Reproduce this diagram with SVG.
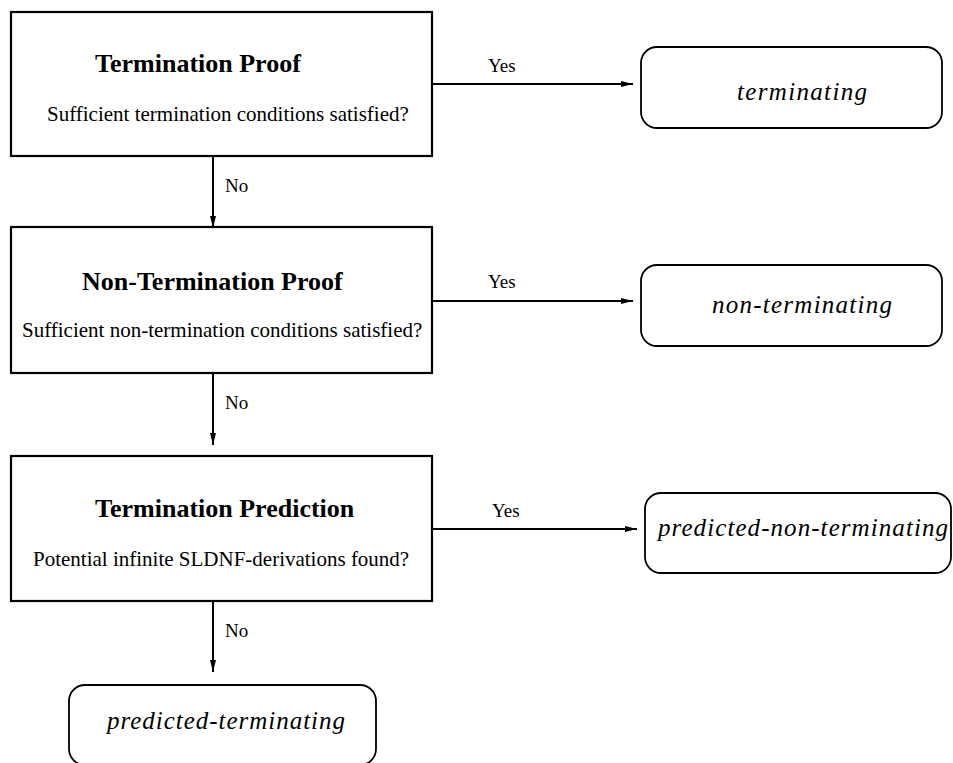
<svg xmlns="http://www.w3.org/2000/svg" width="953" height="763" viewBox="0 0 953 763">
<style>
.box{fill:#fff;stroke:#000;stroke-width:2.2}
.rbox{fill:#fff;stroke:#000;stroke-width:1.8}
.title{font-family:"Liberation Serif","Times New Roman",serif;font-weight:bold;font-size:26px;fill:#000}
.sub{font-family:"Liberation Serif","Times New Roman",serif;font-size:21px;fill:#000}
.lbl{font-family:"Liberation Serif","Times New Roman",serif;font-size:19px;fill:#000}
.res{font-family:"Liberation Serif","DejaVu Serif",serif;font-style:italic;font-size:25px;fill:#000}
.edge{stroke:#000;stroke-width:2;fill:none}
</style>
<defs>
<marker id="ah" markerWidth="12" markerHeight="6" refX="12" refY="3" orient="auto" markerUnits="userSpaceOnUse">
<path d="M0,0 L12,3 L0,6 z" fill="#000"/>
</marker>
</defs>
<g id="connectors">
<line class="edge" x1="432" y1="84" x2="633" y2="84" marker-end="url(#ah)"/>
<line class="edge" x1="432" y1="301" x2="633" y2="301" marker-end="url(#ah)"/>
<line class="edge" x1="432" y1="529" x2="637" y2="529" marker-end="url(#ah)"/>
<line class="edge" x1="213" y1="156" x2="213" y2="228" marker-end="url(#ah)"/>
<line class="edge" x1="213" y1="373" x2="213" y2="445" marker-end="url(#ah)"/>
<line class="edge" x1="213" y1="601" x2="213" y2="672" marker-end="url(#ah)"/>
<text class="lbl" x="488" y="72">Yes</text>
<text class="lbl" x="488" y="288">Yes</text>
<text class="lbl" x="492" y="517">Yes</text>
<text class="lbl" x="225" y="192">No</text>
<text class="lbl" x="225" y="409">No</text>
<text class="lbl" x="225" y="637">No</text>
</g>
<g id="termination-proof">
<rect class="box" x="11" y="12" width="421" height="144"/>
<text class="title" x="95" y="72">Termination Proof</text>
<text class="sub" x="47" y="121">Sufficient termination conditions satisfied?</text>
</g>
<g id="non-termination-proof">
<rect class="box" x="11" y="227" width="421" height="146"/>
<text class="title" x="82" y="290">Non-Termination Proof</text>
<text class="sub" x="22" y="337">Sufficient non-termination conditions satisfied?</text>
</g>
<g id="termination-prediction">
<rect class="box" x="11" y="456" width="421" height="145"/>
<text class="title" x="95" y="517">Termination Prediction</text>
<text class="sub" x="33" y="566">Potential infinite SLDNF-derivations found?</text>
</g>
<g id="terminating">
<rect class="rbox" x="641" y="47" width="301" height="81" rx="16" ry="16"/>
<text class="res" x="737" y="100" textLength="130" lengthAdjust="spacing">terminating</text>
</g>
<g id="non-terminating">
<rect class="rbox" x="641" y="265" width="301" height="81" rx="16" ry="16"/>
<text class="res" x="712" y="313" textLength="180" lengthAdjust="spacing">non-terminating</text>
</g>
<g id="predicted-non-terminating">
<rect class="rbox" x="645" y="493" width="306" height="80" rx="16" ry="16"/>
<text class="res" x="658" y="536" textLength="290" lengthAdjust="spacing">predicted-non-terminating</text>
</g>
<g id="predicted-terminating">
<rect class="rbox" x="69" y="685" width="307" height="80" rx="16" ry="16"/>
<text class="res" x="107" y="729" textLength="238" lengthAdjust="spacing">predicted-terminating</text>
</g>
</svg>
